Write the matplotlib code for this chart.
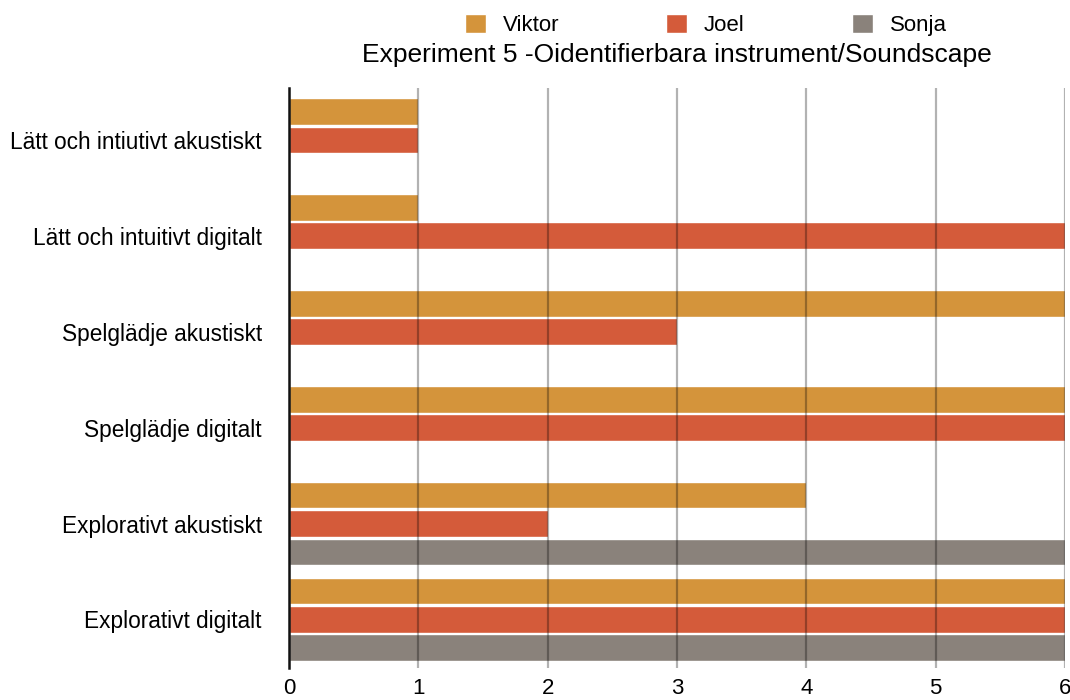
import matplotlib.pyplot as plt
import numpy as np

plt.rcParams["font.family"] = ["Liberation Sans", "DejaVu Sans"]

categories = [
    "Lätt och intiutivt akustiskt",
    "Lätt och intuitivt digitalt",
    "Spelglädje akustiskt",
    "Spelglädje digitalt",
    "Explorativt akustiskt",
    "Explorativt digitalt",
]
series_names = ["Viktor", "Joel", "Sonja"]
viktor = [1, 1, 6, 6, 4, 6]
joel = [1, 6, 3, 6, 2, 6]
sonja = [0, 0, 0, 0, 6, 6]
colors = ["#d4943b", "#d45b3a", "#8a827b"]
x_ticks = [0, 1, 2, 3, 4, 5, 6]


def draw_chart():
    fig = plt.figure(figsize=(10.7, 7), dpi=100)
    ax = fig.add_axes([0.270, 0.0457, 0.7253, 0.8286])

    y = np.arange(len(categories))
    bar_h = 0.28
    step = 0.297
    for k, (name, vals) in enumerate(zip(series_names, [viktor, joel, sonja])):
        ax.barh(y + (k - 1) * step, vals, height=bar_h, color=colors[k],
                edgecolor="white", linewidth=1.0, label=name, zorder=2)

    ax.set_xlim(0, 6)
    ax.set_ylim(5.507, -0.543)
    ax.set_yticks(y)
    ax.set_yticklabels(categories, fontsize=16.3)
    ax.set_xticks(x_ticks)
    ax.set_xticklabels([str(t) for t in x_ticks], fontsize=16)
    ax.tick_params(axis="y", length=0, pad=19.5)
    ax.tick_params(axis="x", length=0, pad=7)

    ax.grid(axis="x", color="black", alpha=0.3, linewidth=1.6, zorder=3)
    ax.set_axisbelow(False)
    for side in ["top", "right", "bottom"]:
        ax.spines[side].set_visible(False)
    ax.spines["left"].set_color("#111111")
    ax.spines["left"].set_linewidth(1.8)
    ax.spines["left"].set_zorder(4)

    ax.set_title("Experiment 5 -Oidentifierbara instrument/Soundscape",
                 fontsize=19, pad=19)

    fig.legend(loc="center", bbox_to_anchor=(0.6595, 0.964), ncol=3,
               frameon=False, fontsize=16, handlelength=0.95, handleheight=0.95,
               handletextpad=0.77, columnspacing=4.8)

    fig.savefig("out.png", dpi=100)
    plt.close(fig)


if __name__ == "__main__":
    draw_chart()
